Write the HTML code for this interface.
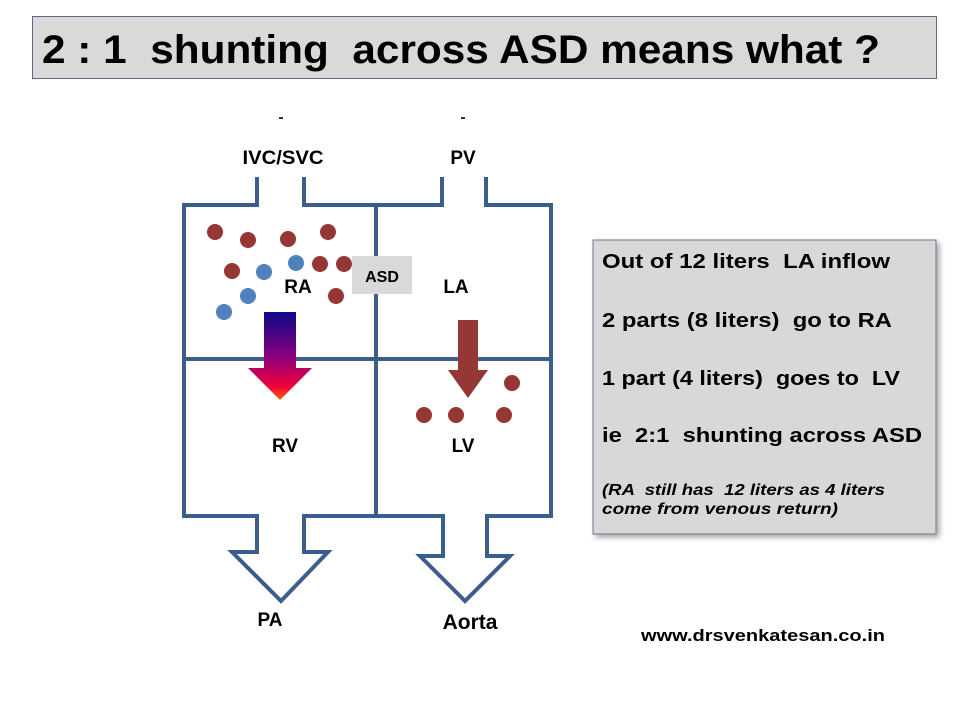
<!DOCTYPE html>
<html><head><meta charset="utf-8"><style>
html,body{margin:0;padding:0;background:#fff;}
svg{display:block;font-family:"Liberation Sans",sans-serif;font-weight:bold;}
text{white-space:pre;}
</style></head><body>
<svg width="960" height="720" viewBox="0 0 960 720" xmlns="http://www.w3.org/2000/svg" xml:space="preserve">
<defs>
<linearGradient id="g1" x1="0" y1="0" x2="0" y2="1">
<stop offset="0" stop-color="#0a0a8a"/><stop offset="0.5" stop-color="#8a0080"/><stop offset="0.85" stop-color="#f0003a"/><stop offset="1" stop-color="#ff6000"/>
</linearGradient>
<filter id="sh" x="-5%" y="-5%" width="115%" height="115%"><feDropShadow dx="3" dy="3" stdDeviation="3" flood-color="#000" flood-opacity="0.35"/></filter>
</defs>
<rect x="32.5" y="16.5" width="904" height="62" fill="#d9d9d9" stroke="#5a6a86" stroke-width="1"/>
<text x="42" y="63" font-size="40" textLength="838" lengthAdjust="spacingAndGlyphs">2 : 1  shunting  across ASD means what ?</text>

<rect x="593" y="240" width="343" height="294" fill="#d8d8d8" stroke="#6a7a96" stroke-width="1" filter="url(#sh)"/>
<g font-size="20">
<text x="602" y="268" textLength="288" lengthAdjust="spacingAndGlyphs">Out of 12 liters  LA inflow</text>
<text x="602" y="327" textLength="290" lengthAdjust="spacingAndGlyphs">2 parts (8 liters)  go to RA</text>
<text x="602" y="385" textLength="298" lengthAdjust="spacingAndGlyphs">1 part (4 liters)  goes to  LV</text>
<text x="602" y="442" textLength="320" lengthAdjust="spacingAndGlyphs">ie  2:1  shunting across ASD</text>
</g>
<g font-size="16" font-style="italic">
<text x="602" y="495" textLength="283" lengthAdjust="spacingAndGlyphs">(RA  still has  12 liters as 4 liters</text>
<text x="602" y="514" textLength="236" lengthAdjust="spacingAndGlyphs">come from venous return)</text>
</g>

<g fill="none" stroke="#3c5e8c" stroke-width="4" stroke-linejoin="miter">
<polyline points="257,177 257,205 184,205 184,516 257,516 257,552 232,552 281,601 328,552 304,552 304,516 443,516 443,556 420,556 465,601 510,556 487,556 487,516 551,516 551,205 486,205 486,177"/>
<polyline points="442,177 442,205 304,205 304,177"/>
<line x1="376" y1="205" x2="376" y2="516"/>
<line x1="184" y1="359" x2="551" y2="359"/>
</g>
<rect x="352" y="256" width="60" height="38" fill="#d9d9d9"/>
<text x="382" y="282" font-size="16" text-anchor="middle">ASD</text>

<g fill="#953735">
<circle cx="215" cy="232" r="8"/><circle cx="248" cy="240" r="8"/><circle cx="288" cy="239" r="8"/><circle cx="328" cy="232" r="8"/>
<circle cx="232" cy="271" r="8"/><circle cx="320" cy="264" r="8"/><circle cx="344" cy="264" r="8"/><circle cx="336" cy="296" r="8"/>
<circle cx="424" cy="415" r="8"/><circle cx="456" cy="415" r="8"/><circle cx="504" cy="415" r="8"/><circle cx="512" cy="383" r="8"/>
<polygon points="458,320 478,320 478,370 488,370 468,398 448,370 458,370"/>
</g>
<g fill="#4f81bd">
<circle cx="264" cy="272" r="8"/><circle cx="296" cy="263" r="8"/><circle cx="248" cy="296" r="8"/><circle cx="224" cy="312" r="8"/>
</g>
<polygon points="264,312 296,312 296,368 312,368 280,400 248,368 264,368" fill="url(#g1)"/>

<rect x="279" y="117" width="4" height="2" fill="#333"/>
<rect x="461" y="117" width="4" height="2" fill="#333"/>
<g font-size="19" text-anchor="middle">
<text x="283" y="164" textLength="81" lengthAdjust="spacingAndGlyphs">IVC/SVC</text>
<text x="463" y="164">PV</text>
<text x="298" y="293">RA</text>
<text x="456" y="293">LA</text>
<text x="285" y="452">RV</text>
<text x="463" y="452">LV</text>
<text x="270" y="626">PA</text>
<text x="470" y="629" font-size="21">Aorta</text>
</g>
<text x="641" y="641" font-size="17" textLength="244" lengthAdjust="spacingAndGlyphs">www.drsvenkatesan.co.in</text>
</svg>
</body></html>
